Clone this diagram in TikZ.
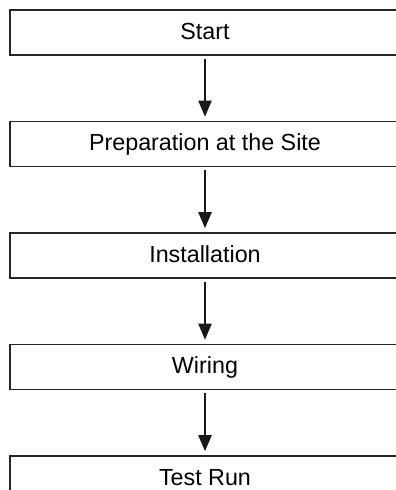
\documentclass[tikz,border=0pt]{standalone}
\usepackage{fontspec}
\setmainfont{Liberation Sans}
\usetikzlibrary{arrows.meta,positioning}

\begin{document}
\begin{tikzpicture}[x=1pt,y=1pt,
    stagebox/.style={draw=black!85, line width=1.5pt, minimum width=390pt,
      minimum height=45pt, inner sep=0pt, text height=17pt, text depth=3.4pt,
      font=\fontsize{23.3}{27}\selectfont},
    flowarrow/.style={-{Triangle[width=13pt,length=16pt]}, line width=2.2pt,
      black!90, shorten <=3pt, shorten >=4pt}]
  \useasboundingbox (0,0) rectangle (396,490);
  \clip (0,0) rectangle (396,490);
  % stages of the procedure
  \node[stagebox] (start) at (205,457.5) {Start};
  \node[stagebox, below=65pt of start] (prep) {Preparation at the Site};
  \node[stagebox, below=65pt of prep] (install) {Installation};
  \node[stagebox, below=65pt of install] (wiring) {Wiring};
  \node[stagebox, below=65pt of wiring] (testrun) {Test Run};
  % arrows between stages
  \foreach \from/\to in {start/prep, prep/install, install/wiring, wiring/testrun}
    \draw[flowarrow] (\from) -- (\to);
\end{tikzpicture}
\end{document}
